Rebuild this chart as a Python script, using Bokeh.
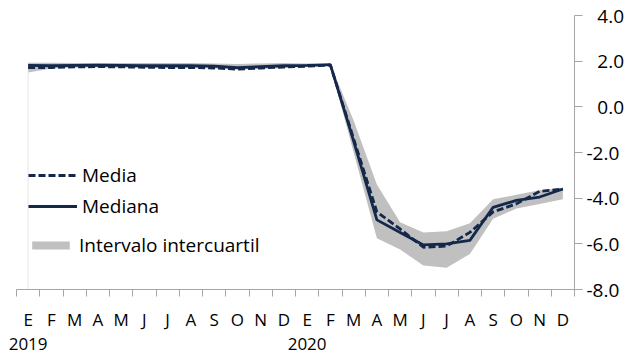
from bokeh.plotting import figure
from bokeh.models import (LinearAxis, FixedTicker, Range1d, Legend, LegendItem)
from bokeh.embed import file_html
from bokeh.resources import INLINE

# ---- data ----
months = ["E", "F", "M", "A", "M", "J", "J", "A", "S", "O", "N", "D",
          "E", "F", "M", "A", "M", "J", "J", "A", "S", "O", "N", "D"]
years = ["2019", "2020"]
year_index = [0, 12]
mediana = [1.82, 1.80, 1.82, 1.83, 1.82, 1.80, 1.80, 1.80, 1.78, 1.72, 1.76, 1.80,
           1.82, 1.85, -1.5, -4.95, -5.5, -6.05, -6.0, -5.85, -4.4, -4.1, -3.95, -3.6]
media = [1.72, 1.72, 1.75, 1.76, 1.75, 1.73, 1.72, 1.72, 1.70, 1.65, 1.70, 1.74,
         1.78, 1.83, -1.4, -4.6, -5.35, -6.15, -6.1, -5.5, -4.6, -4.25, -3.7, -3.6]
q_high = [1.93, 1.93, 1.92, 1.92, 1.92, 1.92, 1.92, 1.92, 1.90, 1.88, 1.90, 1.92,
          1.90, 1.87, -0.6, -3.4, -5.05, -5.5, -5.45, -5.1, -4.05, -3.85, -3.65, -3.55]
q_low = [1.50, 1.68, 1.72, 1.72, 1.72, 1.70, 1.70, 1.70, 1.68, 1.62, 1.66, 1.70,
         1.75, 1.80, -2.0, -5.75, -6.25, -6.95, -7.05, -6.45, -4.9, -4.45, -4.25, -4.05]
y_ticks = [-8, -6, -4, -2, 0, 2, 4]

# ---- style ----
FONT = "Open Sans"
FS = "19px"
FS_X = "17px"
NAVY = "#14284B"
GRAY = "#C0C0C0"
AX = "#A6A6A6"

idx = list(range(len(months)))
y_min, y_max = min(y_ticks), max(y_ticks)
x_lo, x_hi = -0.5, len(months) - 0.5

p = figure(width=634, height=358, output_backend="svg", toolbar_location=None,
           x_range=Range1d(x_lo, x_hi), y_range=Range1d(y_min, y_max),
           x_axis_location=None, y_axis_location=None,
           min_border_left=16, min_border_top=15, min_border_right=60, min_border_bottom=63)
p.outline_line_color = None
p.grid.visible = False
p.background_fill_color = "white"

# faint left edge
p.segment(x0=[idx[0]], y0=[y_min], x1=[idx[0]], y1=[q_low[0]], line_color="#E6E6E6", line_width=1)

band = p.varea(x=idx, y1=q_low, y2=q_high, fill_color=GRAY, fill_alpha=1.0)
r_media = p.line(idx, media, line_color=NAVY, line_width=2.8, line_dash="7 3")
r_med = p.line(idx, mediana, line_color=NAVY, line_width=2.8)

# x axis: month labels at centres (year on a second line), ticks at boundaries (minor)
x_labels = {i: m for i, m in enumerate(months)}
for yr, xi in zip(years, year_index):
    x_labels[xi] = months[xi] + "\n" + yr
xa = LinearAxis(ticker=FixedTicker(ticks=idx, minor_ticks=[i - 0.5 for i in range(len(months) + 1)]),
                major_label_overrides=x_labels)
xa.major_tick_out = 0
xa.major_tick_in = 0
xa.minor_tick_out = 7
xa.minor_tick_in = 0
xa.axis_line_color = AX
xa.minor_tick_line_color = AX
xa.major_tick_line_color = None
xa.major_label_standoff = 11
xa.major_label_text_font = FONT
xa.major_label_text_font_size = FS_X
xa.major_label_text_line_height = 1.08
xa.major_label_text_color = "black"
p.add_layout(xa, "below")

# y axis on the right
y_labels = {t: ("\u2007" if t >= 0 else "") + f"{t:.1f}" for t in y_ticks}
ya = LinearAxis(ticker=FixedTicker(ticks=y_ticks), major_label_overrides=y_labels)
ya.major_tick_out = 8
ya.major_tick_in = 0
ya.minor_tick_line_color = None
ya.axis_line_color = AX
ya.major_tick_line_color = AX
ya.major_label_standoff = 4
ya.major_label_text_font = FONT
ya.major_label_text_font_size = FS
ya.major_label_text_color = "black"
p.add_layout(ya, "right")

def add_legend(label, rend, loc, gw, gh):
    lg = Legend(items=[LegendItem(label=label, renderers=[rend])], location=loc,
                orientation="vertical", glyph_width=gw, glyph_height=gh, label_standoff=5,
                padding=0, margin=0, border_line_color=None, background_fill_alpha=0,
                label_text_font=FONT, label_text_font_size=FS, label_height=20,
                label_text_color="black")
    p.add_layout(lg, "center")

add_legend("Media", r_media, (12, 101), 49, 20)
add_legend("Mediana", r_med, (12, 70), 49, 20)
add_legend("Intervalo intercuartil", band, (11, 31), 47, 10)

open("out.html", "w").write(file_html(p, INLINE))
